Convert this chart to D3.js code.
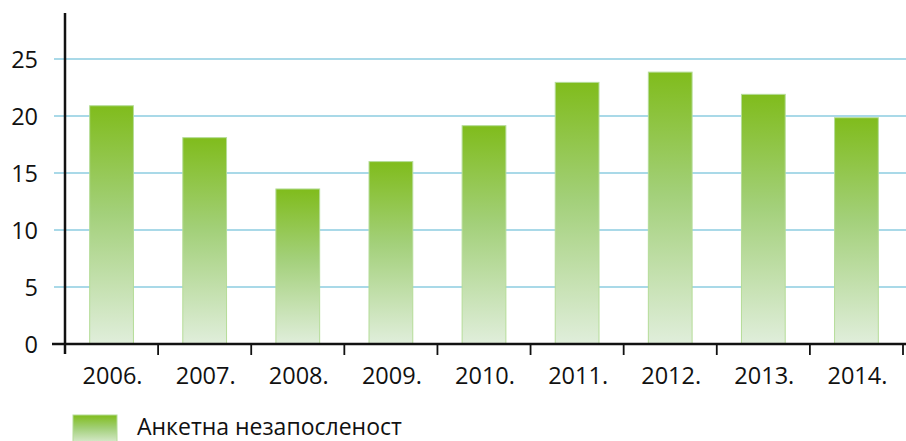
<!DOCTYPE html>
<html><head><meta charset="utf-8">
<script src="https://cdn.jsdelivr.net/npm/d3@7"></script>
<style>body{margin:0;background:#fff}svg{display:block}text{font-family:"Open Sans","Noto Sans",sans-serif;fill:#111}</style>
</head><body>
<script>
const categories = ["2006.","2007.","2008.","2009.","2010.","2011.","2012.","2013.","2014."];
const values = [20.9, 18.1, 13.6, 16.0, 19.15, 22.95, 23.85, 21.9, 19.85];
const yTicks = [0,5,10,15,20,25];
const seriesName = "Анкетна незапосленост";

const W=906,H=441;
const svg=d3.select("body").append("svg").attr("width",W).attr("height",H);
const defs=svg.append("defs");
const g=defs.append("linearGradient").attr("id","bg").attr("x1",0).attr("y1",0).attr("x2",0).attr("y2",1);
g.append("stop").attr("offset","0%").attr("stop-color","#80bc1c");
g.append("stop").attr("offset","45%").attr("stop-color","#a3d07a");
g.append("stop").attr("offset","100%").attr("stop-color","#e0eedb");

const x=d3.scaleBand().domain(categories).range([65,903]).paddingInner(0.53).paddingOuter(0.265);
const y=d3.scaleLinear().domain([0,25]).range([344,59]);

// grid
svg.append("g").selectAll("line").data(yTicks.filter(d=>d>0)).join("line")
 .attr("x1",54).attr("x2",906).attr("y1",d=>y(d)).attr("y2",d=>y(d))
 .attr("stroke","#8ccde0").attr("stroke-width",1.6);

// bars
svg.append("g").selectAll("rect").data(values).join("rect")
 .attr("x",(d,i)=>x(categories[i])).attr("width",x.bandwidth())
 .attr("y",d=>y(d)).attr("height",d=>y(0)-y(d))
 .attr("fill","url(#bg)").attr("stroke","#b5dc98").attr("stroke-width",1);

// y labels
svg.append("g").selectAll("text").data(yTicks).join("text")
 .attr("x",38).attr("y",d=>y(d)+8.5).attr("text-anchor","end")
 .style("font-size","23.5px").text(d=>d);

// y axis line
svg.append("line").attr("x1",65).attr("x2",65).attr("y1",13).attr("y2",354)
 .attr("stroke","#111").attr("stroke-width",2.5);
// x axis line
svg.append("line").attr("x1",52).attr("x2",906).attr("y1",344).attr("y2",344)
 .attr("stroke","#111").attr("stroke-width",2.5);
// x ticks at band boundaries
const step=x.step();
const bounds=d3.range(categories.length+1).map(i=>65+i*step);
svg.append("g").selectAll("line").data(bounds.slice(1)).join("line")
 .attr("x1",d=>d).attr("x2",d=>d).attr("y1",344).attr("y2",355)
 .attr("stroke","#111").attr("stroke-width",1.8);
// x labels
svg.append("g").selectAll("text").data(categories).join("text")
 .attr("x",d=>x(d)+x.bandwidth()/2+1).attr("y",384).attr("text-anchor","middle")
 .style("font-size","23.5px").text(d=>d);

// legend
svg.append("rect").attr("x",73).attr("y",415).attr("width",44).attr("height",30)
 .attr("fill","url(#bg)").attr("stroke","#b5dc98");
svg.append("text").attr("x",137).attr("y",435).style("font-size","23px").text(seriesName);
</script>
</body></html>
